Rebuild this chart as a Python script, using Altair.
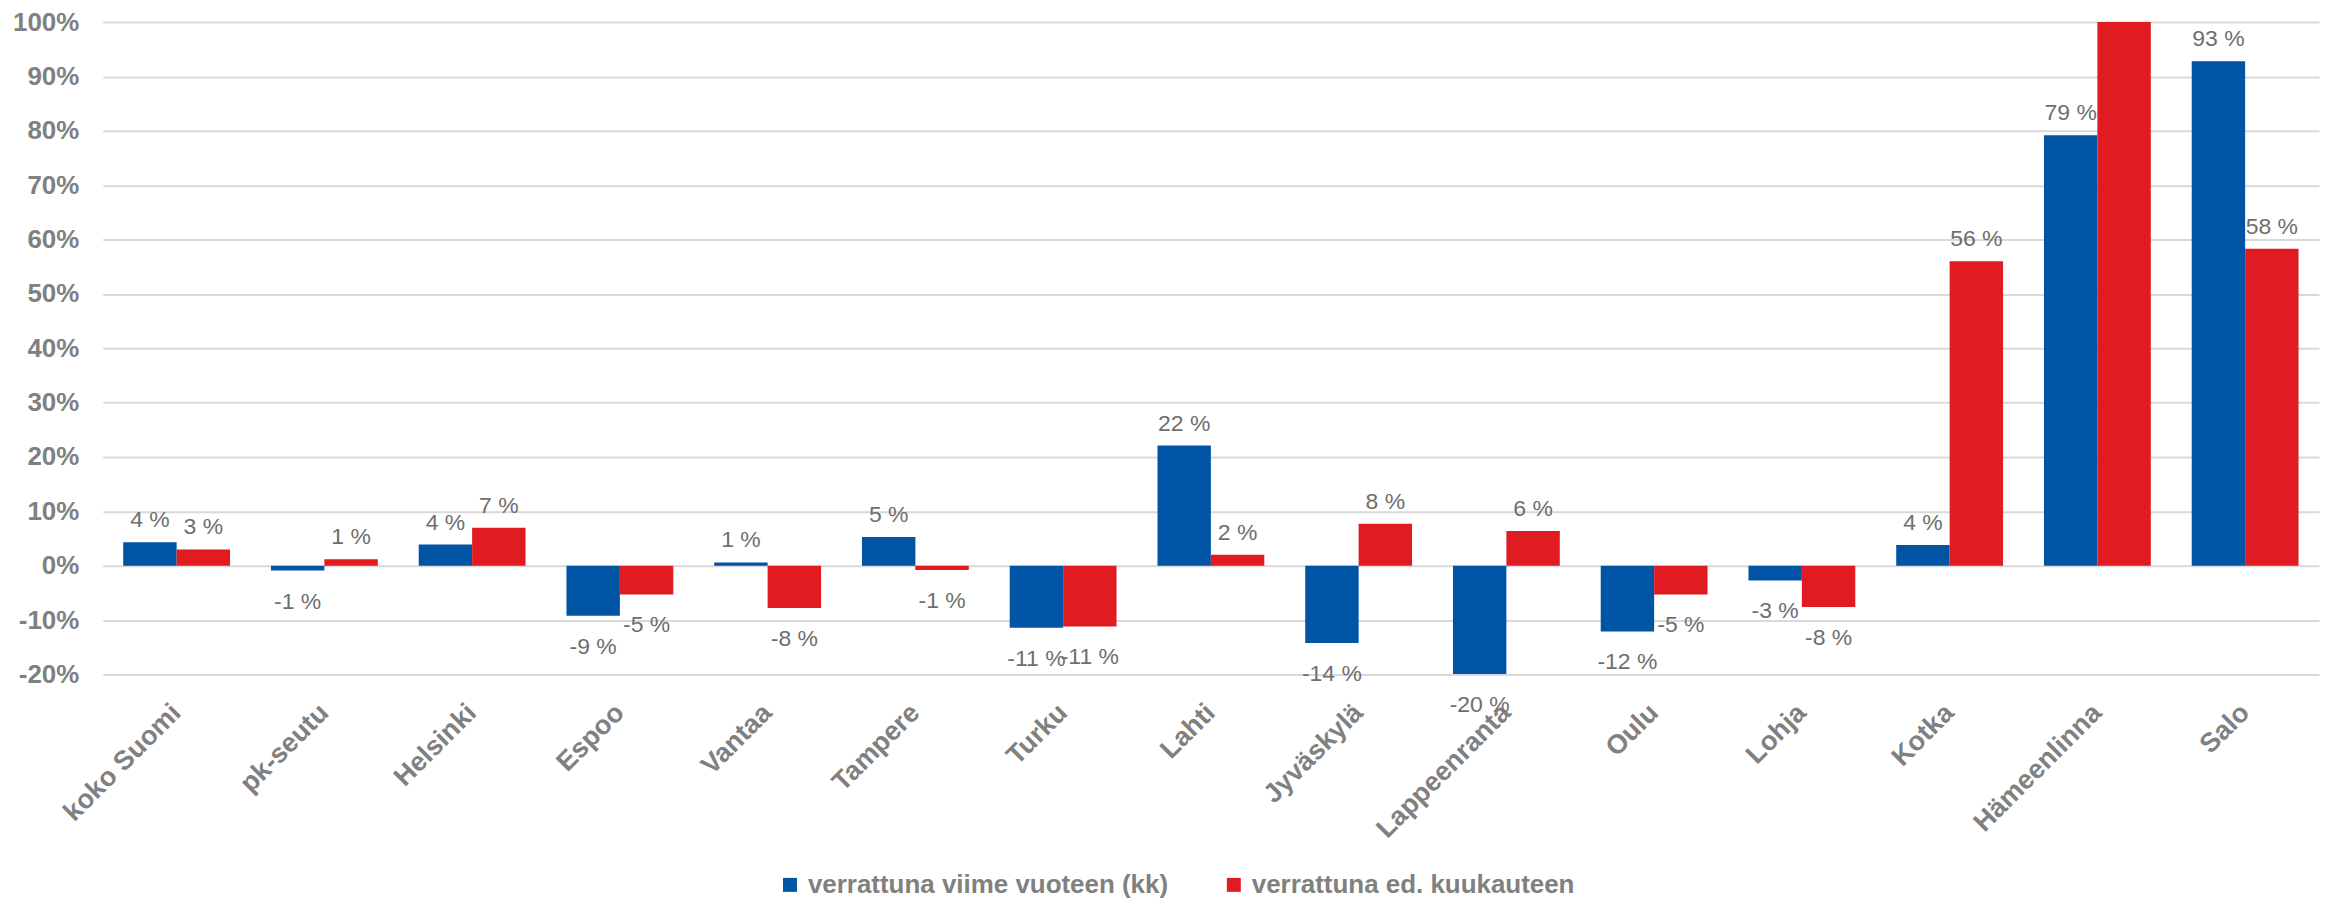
import altair as alt
import pandas as pd

categories = ["koko Suomi", "pk-seutu", "Helsinki", "Espoo", "Vantaa", "Tampere",
              "Turku", "Lahti", "Jyväskylä", "Lappeenranta", "Oulu", "Lohja",
              "Kotka", "Hämeenlinna", "Salo"]
series_names = ["verrattuna viime vuoteen (kk)", "verrattuna ed. kuukauteen"]
yoy = [4.3, -0.9, 3.9, -9.2, 0.6, 5.3, -11.4, 22.1, -14.2, -19.9, -12.1, -2.7, 3.8, 79.2, 92.8]
mom = [3.0, 1.2, 7.0, -5.3, -7.8, -0.8, -11.2, 2.0, 7.7, 6.4, -5.3, -7.6, 56.0, 108.0, 58.3]
colors = ["#0054A4", "#E11B22"]
y_ticks = [-20, -10, 0, 10, 20, 30, 40, 50, 60, 70, 80, 90, 100]

rows = []
for i, c in enumerate(categories):
    rows.append({"cat": c, "series": series_names[0], "v": yoy[i]})
    rows.append({"cat": c, "series": series_names[1], "v": mom[i]})
df = pd.DataFrame(rows)

FONT = "Liberation Sans"

x_enc = alt.X(
    "cat:N", sort=categories,
    scale=alt.Scale(paddingInner=0.277, paddingOuter=0.1385),
    axis=alt.Axis(title=None, labelAngle=-45, labelAlign="right", labelBaseline="middle",
                  labelFont=FONT, labelFontSize=27, labelFontWeight="bold",
                  labelColor="#808080", labelPadding=34, ticks=False, tickSize=0,
                  domain=False, grid=False),
)
xo_enc = alt.XOffset("series:N", sort=series_names,
                     scale=alt.Scale(domain=series_names, paddingInner=0, paddingOuter=0))
y_enc = alt.Y(
    "v:Q",
    scale=alt.Scale(domain=[-20, 100], nice=False, zero=False),
    axis=alt.Axis(title=None, values=y_ticks, labelExpr="datum.value + '%'",
                  labelFont=FONT, labelFontSize=26, labelFontWeight="bold",
                  labelColor="#808080", labelPadding=24, ticks=False, tickSize=0,
                  domain=False, grid=True, gridColor="#d9d9d9", gridWidth=2),
)

base = alt.Chart(df)

bars = base.mark_bar(clip=True).encode(
    x=x_enc, xOffset=xo_enc, y=y_enc,
    color=alt.Color("series:N", sort=series_names,
                    scale=alt.Scale(domain=series_names, range=colors),
                    legend=alt.Legend(title=None, orient="none", direction="horizontal",
                                      legendX=676, legendY=852,
                                      symbolType="square", symbolSize=196,
                                      symbolStrokeWidth=0, labelFont=FONT,
                                      labelFontSize=26, labelFontWeight="bold",
                                      labelColor="#808080", labelOffset=5,
                                      columnPadding=52, labelLimit=600)),
)

pos_text = base.transform_filter("datum.v >= 0 && datum.v <= 100").transform_calculate(
    label="'' + round(datum.v) + ' %'"
).mark_text(font=FONT, fontSize=23, color="#6e6e6e", baseline="alphabetic", dy=-15).encode(
    x=x_enc, xOffset=xo_enc, y=y_enc, text="label:N"
)

neg_text = base.transform_filter("datum.v < 0").transform_calculate(
    label="'' + round(datum.v) + ' %'"
).mark_text(font=FONT, fontSize=23, color="#6e6e6e", baseline="alphabetic", dy=38).encode(
    x=x_enc, xOffset=xo_enc, y=y_enc, text="label:N"
)

chart = alt.layer(bars, pos_text, neg_text).properties(
    width=2222, height=654,
    autosize=alt.AutoSizeParams(type="none"),
    padding={"left": 95, "top": 13, "right": 4, "bottom": 223},
).configure_view(stroke=None)

chart.save("out.html", embed_options={"renderer": "svg", "actions": False})
